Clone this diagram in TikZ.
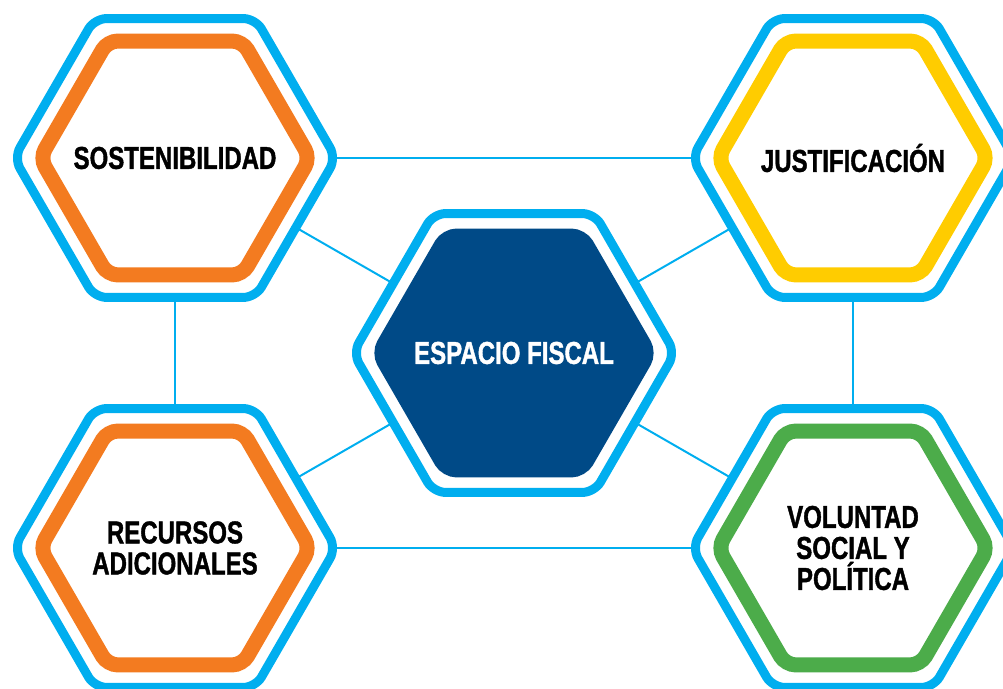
\documentclass[tikz,border=0pt]{standalone}
\usepackage{fontspec}
\newfontfamily\hexfont[FakeStretch=0.76,BoldFeatures={FakeBold=1.2}]{Liberation Sans}
\usetikzlibrary{shapes.geometric,positioning}
\definecolor{hexblue}{RGB}{0,174,239}
\definecolor{hexorange}{RGB}{243,123,32}
\definecolor{hexyellow}{RGB}{255,204,0}
\definecolor{hexgreen}{RGB}{76,172,74}
\definecolor{hexnavy}{RGB}{0,74,135}

\begin{document}
\begin{tikzpicture}[node distance=97.5pt and 169.5pt,on grid,
	hexring/.style={regular polygon,regular polygon sides=6,minimum size=161pt,inner sep=0pt,outer sep=0pt,
		draw=hexblue,line width=4.5pt,rounded corners=6pt,fill=white},
	hexcore/.style={regular polygon,regular polygon sides=6,minimum size=135pt,inner sep=0pt,
		draw=#1,line width=7.5pt,rounded corners=5pt},
	hextext/.style={inner sep=0pt,align=center,font=\hexfont\bfseries\fontsize{15.8}{15.5}\selectfont},
	link/.style={draw=hexblue,line width=1pt}]
	\useasboundingbox (-257pt,-168pt) rectangle (244.5pt,176.5pt);
	
	\node[hexring]         (esp)   at (0,0) {};
	\node[hexring]         (sost)  [above left=of esp] {};
	\node[hexring]         (just)  [above right=of esp] {};
	\node[hexring]         (recur) [below left=of esp] {};
	\node[hexring]         (volun) [below right=of esp] {};
	
	\node[hexcore=hexnavy,fill=hexnavy] (esp-in) at (esp) {};
	\node[hexcore=hexorange] (sost-in)  at (sost)  {};
	\node[hexcore=hexyellow] (just-in)  at (just)  {};
	\node[hexcore=hexorange] (recur-in) at (recur) {};
	\node[hexcore=hexgreen]  (volun-in) at (volun) {};
	
	\node[hextext,text=white] (esp-txt) at (esp) {ESPACIO FISCAL};
	\node[hextext] (sost-txt)  at (sost)  {SOSTENIBILIDAD};
	\node[hextext] (just-txt)  at (just)  {JUSTIFICACIÓN};
	\node[hextext] (recur-txt) at (recur) {RECURSOS\\ADICIONALES};
	\node[hextext] (volun-txt) at (volun) {VOLUNTAD\\SOCIAL Y\\POLÍTICA};
	
	\path[link]
	(sost) edge (just)
	edge (recur)
	edge (esp)
	(just) edge (volun)
	edge (esp)
	(recur) edge (volun)
	edge (esp)
	(volun) edge (esp);
\end{tikzpicture}
\end{document}
